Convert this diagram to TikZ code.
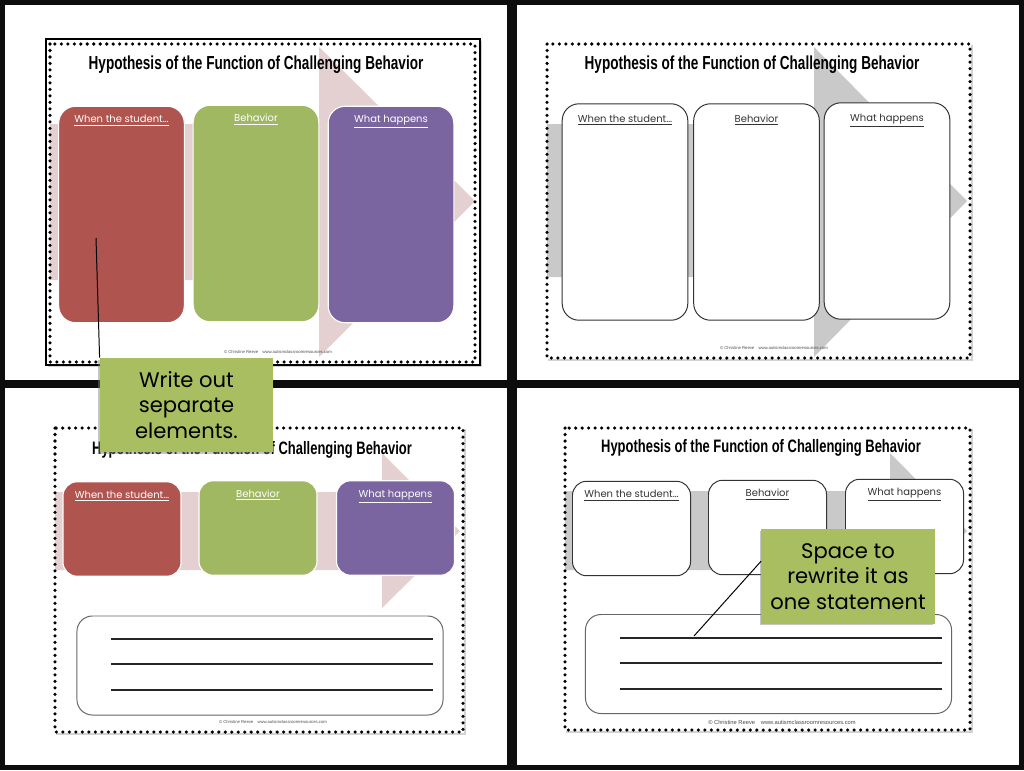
\documentclass[tikz,border=0pt]{standalone}
\usepackage{fontspec}
\setmainfont{Liberation Sans}
\newfontfamily\titlefont[FakeStretch=0.72]{Liberation Sans}
\newfontfamily\notefont{Poppins}
\usetikzlibrary{positioning,shadows}
\definecolor{boxred}{HTML}{B0544F}
\definecolor{boxgreen}{HTML}{A0B862}
\definecolor{boxpurple}{HTML}{7B65A0}
\definecolor{arrowpink}{HTML}{E4D0D0}
\definecolor{arrowgrey}{HTML}{C9C9C9}
\definecolor{notegreen}{HTML}{A9BE60}
\tikzset{
  dots/.style={line width=2.5pt, line cap=round, dash pattern=on 0pt off 4.62pt},
  sheet/.style={fill=white, drop shadow={shadow xshift=1.5pt, shadow yshift=-1.5pt, opacity=0.35}},
  tallbox/.style={rounded corners=12pt, minimum width=3.14cm, minimum height=5.41cm, inner sep=0pt},
  shortbox/.style={rounded corners=10pt, minimum width=2.95cm, minimum height=2.36cm, inner sep=0pt},
  colbox/.style={draw=white, line width=0.8pt},
  plainbox/.style={draw=black!80, line width=0.7pt, fill=white},
  boxlabel/.style={font=\notefont\fontsize{7.1}{8}\selectfont, inner sep=1pt, text height=1.7ex, text depth=0.6ex},
  sheettitle/.style={font=\titlefont\bfseries\fontsize{13.4}{15}\selectfont, inner sep=0pt},
  footer/.style={font=\fontsize{3}{4}\selectfont, text=black!70, inner sep=0pt},
  linesbox/.style={draw=black!60, line width=0.7pt, fill=white, rounded corners=11pt, minimum width=9.15cm, minimum height=2.475cm},
  writeline/.style={line width=0.8pt, draw=black!85},
  note/.style={fill=notegreen, align=center, inner sep=0pt, minimum width=4.33cm, minimum height=2.35cm,
    font=\notefont\fontsize{15}{18}\selectfont, drop shadow={shadow xshift=-1.2pt, shadow yshift=-1.2pt, opacity=0.45}}
}
\begin{document}
\begin{tikzpicture}[x=0.025cm,y=-0.025cm]
  \useasboundingbox (0,0) rectangle (1024,770);
  \fill[black!95] (0,0) rectangle (1024,770);

  % panel 1: coloured boxes
  \fill[white] (5,5) rectangle (507,380);
  \path[sheet, draw=black, line width=1pt] (46,39) rectangle (480,365);
  \fill[arrowpink] (50,124) -- (319,124) -- (319,47) -- (475,201) -- (319,357) -- (319,280) -- (50,280) -- cycle;
  \draw[dots] (50,44) rectangle (475,362);
  \node[tallbox, colbox, fill=boxred] (when1) at (121.5,214.5) {};
  \node[tallbox, colbox, fill=boxgreen] (beh1) at (256,213.5) {};
  \node[tallbox, colbox, fill=boxpurple] (what1) at (391,214.5) {};
  \node[boxlabel, text=white, below=2pt of when1.north] (whenlbl1) {\underline{When the student\ldots}};
  \node[boxlabel, text=white, below=2pt of beh1.north] (behlbl1) {\underline{Behavior}};
  \node[boxlabel, text=white, below=2pt of what1.north] (whatlbl1) {\underline{What happens}};
  \node[sheettitle] (title1) at (256,65) {Hypothesis of the Function of Challenging Behavior};
  \node[footer] (foot1) at (278,352) {\textcopyright{} Christine Reeve\quad www.autismclassroomresources.com};

  % panel 2: blank boxes
  \fill[white] (517,5) rectangle (1019,380);
  \path[sheet] (546,43) rectangle (971,359);
  \fill[arrowgrey] (547,124) -- (814,124) -- (814,47) -- (967,201) -- (814,357) -- (814,277) -- (547,277) -- cycle;
  \draw[dots] (547,44) rectangle (970,358);
  \node[tallbox, plainbox] (when2) at (625,212) {};
  \node[tallbox, plainbox] (beh2) at (756.5,212) {};
  \node[tallbox, plainbox] (what2) at (887,211) {};
  \node[boxlabel, text=black!80, below=3.5pt of when2.north] (whenlbl2) {\underline{When the student\ldots}};
  \node[boxlabel, text=black!80, below=3.5pt of beh2.north] (behlbl2) {\underline{Behavior}};
  \node[boxlabel, text=black!80, below=3.5pt of what2.north] (whatlbl2) {\underline{What happens}};
  \node[sheettitle] (title2) at (752,65) {Hypothesis of the Function of Challenging Behavior};
  \node[footer] (foot2) at (774,348) {\textcopyright{} Christine Reeve\quad www.autismclassroomresources.com};

  % panel 3: coloured boxes and statement lines
  \fill[white] (5,388) rectangle (507,765);
  \path[sheet] (54,427) rectangle (464,733);
  \fill[arrowpink] (55,492) -- (382,492) -- (382,453) -- (460,531) -- (382,608) -- (382,570) -- (55,570) -- cycle;
  \draw[dots] (55,428) rectangle (463,732);
  \node[shortbox, colbox, fill=boxred] (when3) at (122,529) {};
  \node[shortbox, colbox, fill=boxgreen] (beh3) at (258,528) {};
  \node[shortbox, colbox, fill=boxpurple] (what3) at (395.5,528) {};
  \node[boxlabel, text=white, below=2pt of when3.north] (whenlbl3) {\underline{When the student\ldots}};
  \node[boxlabel, text=white, below=2pt of beh3.north] (behlbl3) {\underline{Behavior}};
  \node[boxlabel, text=white, below=2pt of what3.north] (whatlbl3) {\underline{What happens}};
  \node[sheettitle, font=\titlefont\bfseries\fontsize{12.8}{15}\selectfont] (title3) at (252,450) {Hypothesis of the Function of Challenging Behavior};
  \node[linesbox] (stmt3) at (260,665.5) {};
  \draw[writeline] (111,639) -- (433,639);
  \draw[writeline] (111,664) -- (433,664);
  \draw[writeline] (111,690) -- (433,690);
  \node[footer] (foot3) at (273,722) {\textcopyright{} Christine Reeve\quad www.autismclassroomresources.com};

  % panel 4: blank boxes and statement lines
  \fill[white] (517,388) rectangle (1019,765);
  \path[sheet] (564,427) rectangle (971,731);
  \fill[arrowgrey] (565,491) -- (890,491) -- (890,453) -- (967,531) -- (890,608) -- (890,570) -- (565,570) -- cycle;
  \draw[dots] (565,428) rectangle (970,730);
  \node[shortbox, plainbox] (when4) at (631.5,528.5) {};
  \node[shortbox, plainbox] (beh4) at (767.5,527.5) {};
  \node[shortbox, plainbox] (what4) at (904.5,526.5) {};
  \node[boxlabel, text=black!80, below=2pt of when4.north] (whenlbl4) {\underline{When the student\ldots}};
  \node[boxlabel, text=black!80, below=2pt of beh4.north] (behlbl4) {\underline{Behavior}};
  \node[boxlabel, text=black!80, below=2pt of what4.north] (whatlbl4) {\underline{What happens}};
  \node[sheettitle, font=\titlefont\bfseries\fontsize{12.8}{15}\selectfont] (title4) at (761,448) {Hypothesis of the Function of Challenging Behavior};
  \node[linesbox] (stmt4) at (768.5,664) {};
  \draw[writeline] (620,638) -- (942,638);
  \draw[writeline] (620,663) -- (942,663);
  \draw[writeline] (620,689) -- (942,689);
  \node[footer, font=\fontsize{4.1}{5}\selectfont] (foot4) at (782,722) {\textcopyright{} Christine Reeve\quad www.autismclassroomresources.com};

  % callouts
  \coordinate (tip1) at (96,238);
  \coordinate (tip2) at (694,636);
  \node[note] (note1) at (186.5,405) {Write out\\separate\\elements.};
  \node[note] (note2) at (848,576.5) {Space to\\rewrite it as\\one statement};
  \draw[line width=0.7pt] (tip1) -- (note1.north west);
  \draw[line width=0.7pt] (tip2) -- (note2.170);
\end{tikzpicture}
\end{document}
